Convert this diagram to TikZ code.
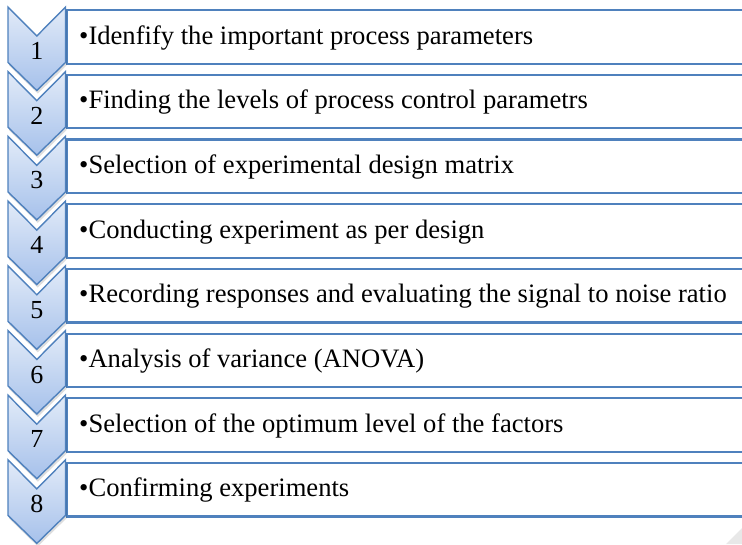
\documentclass[tikz,border=0pt]{standalone}
\usepackage{fontspec}
\setmainfont{Liberation Serif}
\definecolor{bdr}{RGB}{79,129,189}
\definecolor{ctop}{RGB}{226,235,248}
\definecolor{cbot}{RGB}{166,193,235}
\tikzset{
  stepbox/.style={draw=bdr, line width=2.2pt, fill=white, rectangle, inner sep=0pt,
    minimum width=720pt, minimum height=53.5pt, anchor=north west},
  chev/.style={draw=bdr, line width=1.4pt, top color=ctop, bottom color=cbot},
  chevshadow/.style={fill=black, opacity=0.13},
  numtxt/.style={font=\fontsize{26}{30}\selectfont, inner sep=0pt, anchor=base},
  steptxt/.style={font=\fontsize{26.6}{30}\selectfont, inner sep=0pt, anchor=base west},
}
\begin{document}
\begin{tikzpicture}[x=1pt,y=-1pt]
\useasboundingbox (0,0) rectangle (742,544);
\clip (0,0) rectangle (742,544);
\fill[gray!18] (742,528) -- (742,544) -- (726,544) -- cycle;
\foreach \txt [count=\i] in {
  Idenfify the important process parameters,
  Finding the levels of process control parametrs,
  Selection of experimental design matrix,
  Conducting experiment as per design,
  Recording responses and evaluating the signal to noise ratio,
  Analysis of variance (ANOVA),
  Selection of the optimum level of the factors,
  Confirming experiments}{
  \pgfmathsetmacro{\tp}{9+64.7*(\i-1)}
  \pgfmathsetmacro{\bt}{\tp+53.5}
  \node[stepbox] (box\i) at (66,\tp) {};
  \fill[chevshadow] (9,\tp+1) -- (37.8,\tp+30) -- (66.5,\tp+1) -- (66.5,\bt+3) -- (37.8,\bt+31) -- (9,\bt+3) -- cycle;
  \path[chev] (8,\tp-2) -- (36.8,\tp+27) -- (65.5,\tp-2) -- (65.5,\bt) -- (36.8,\bt+28) -- (8,\bt) -- cycle;
  \node[numtxt] (num\i) at (36.8,\bt-3) {\i};
  \node[steptxt] (txt\i) at (79,\tp+35) {•\txt};
}
\end{tikzpicture}
\end{document}
